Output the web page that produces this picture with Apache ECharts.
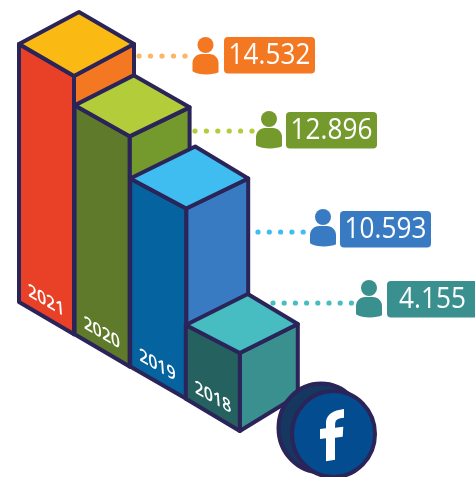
<!DOCTYPE html>
<html><head><meta charset="utf-8">
<style>html,body{margin:0;padding:0;background:#fff}#c{width:475px;height:477px}</style>
<script src="https://cdn.jsdelivr.net/npm/echarts@6/dist/echarts.min.js"></script>
</head><body><div id="c"></div>
<script>
const years = ['2021', '2020', '2019', '2018'];
const followers = [14532, 12896, 10593, 4155];
const valueLabels = ['14.532', '12.896', '10.593', '4.155'];

const topColors = ['#fbb913', '#b2cc3a', '#3fbdf0', '#47bcc1'];
const leftColors = ['#e94127', '#5f7a2a', '#05649f', '#25625f'];
const rightColors = ['#f47721', '#74992c', '#387bc2', '#3a908e'];
const dotColors = ['#fbb563', '#b2cc3a', '#3fbdf0', '#47bcc1'];

const INK = '#2a2459';
const STROKE = 4;
const FLOOR_SLOPE = 0.58;
const RIGHT_FACE_RATIO = 0.97;
const TEXT_FONT = '"Open Sans", sans-serif';

// Corner offsets of each bar's top face, measured from its left corner.
const topFaces = [
  { f: [55, 32], b: [60, -32], r: [115, 0] },
  { f: [55, 31], b: [59, -30], r: [115, 2] },
  { f: [56, 30], b: [65, -32], r: [118, 0] },
  { f: [54, 28], b: [62, -31], r: [112, -1] }
];

const callouts = [
  { dot0: 139, dots: 5, step: 11.5, dotY: 56, iconX: 192.5, iconY: 37, pillX: 224, pillY: 37 },
  { dot0: 195, dots: 6, step: 11.4, dotY: 131, iconX: 256, iconY: 111, pillX: 286, pillY: 112 },
  { dot0: 258, dots: 5, step: 11.3, dotY: 232, iconX: 310, iconY: 209, pillX: 340, pillY: 211 },
  { dot0: 273, dots: 8, step: 11.2, dotY: 303, iconX: 356, iconY: 280, pillX: 387, pillY: 281 }
];

// Year label sheared onto the left face: baseline follows the floor, stems stay near vertical.
function skewed(text, cx, cy) {
  const t = 30 * Math.PI / 180, s = 4 * Math.PI / 180;
  const a = Math.cos(t), b = Math.sin(s), c = Math.sin(t), d = Math.cos(s);
  const E = (a + d) / 2, F = (a - d) / 2, G = (c + b) / 2, H = (c - b) / 2;
  const Q = Math.hypot(E, H), R = Math.hypot(F, G);
  const a1 = Math.atan2(G, F), a2 = Math.atan2(H, E);
  const theta = (a2 - a1) / 2, phi = (a2 + a1) / 2;
  return {
    type: 'group', x: cx, y: cy, rotation: -phi, children: [{
      type: 'group', scaleX: Q + R, scaleY: Q - R, children: [{
        type: 'text', rotation: -theta,
        style: { text, fill: '#fff', font: '600 18.5px ' + TEXT_FONT, align: 'center', verticalAlign: 'middle' }
      }]
    }]
  };
}

function renderBar(params, api) {
  const i = params.dataIndex;
  const topPt = api.coord([api.value(0), api.value(1)]);
  const basePt = api.coord([api.value(0), 0]);
  const band = api.size([1, 0])[0];
  const lx = topPt[0] - band / 2;
  const drop = i * band * FLOOR_SLOPE;
  const h = basePt[1] - topPt[1];
  const ly = topPt[1] + drop;
  const face = topFaces[i];
  const at = (o) => [lx + o[0], ly + o[1]];
  const L = [lx, ly];
  const Fp = at(face.f);
  const B = at(face.b);
  const R = at(face.r);
  const baseL = [lx, ly + h];
  const baseF = [Fp[0], ly + h + band * FLOOR_SLOPE];
  const st = (fill) => ({ fill, stroke: INK, lineWidth: STROKE, lineJoin: 'round' });
  const co = callouts[i];
  const children = [];
  for (let k = 0; k < co.dots; k++) {
    children.push({ type: 'circle', shape: { cx: co.dot0 + k * co.step, cy: co.dotY, r: 2.6 }, style: { fill: dotColors[i] } });
  }
  children.push(
    { type: 'polygon', shape: { points: [Fp, R, [R[0], R[1] + h * RIGHT_FACE_RATIO], baseF] }, style: st(rightColors[i]) },
    { type: 'polygon', shape: { points: [L, Fp, baseF, baseL] }, style: st(leftColors[i]) },
    { type: 'polygon', shape: { points: [L, B, R, Fp] }, style: st(topColors[i]) },
    skewed(years[i], lx + band * 0.49, ly + h - 1),
    { type: 'circle', shape: { cx: co.iconX + 13, cy: co.iconY + 8, r: 8 }, style: { fill: rightColors[i] } },
    { type: 'path', shape: {
        pathData: 'M0 17 V9 C0 4 4 0 9 0 H17 C22 0 26 4 26 9 V18 C20 21 6 21 0 17 Z',
        x: co.iconX, y: co.iconY + 17, width: 26, height: 20.5, layout: 'cover' },
      style: { fill: rightColors[i] } },
    { type: 'rect', shape: { x: co.pillX, y: co.pillY, width: 91, height: 36.5, r: 4 }, style: { fill: rightColors[i] } },
    { type: 'text', x: co.pillX + 45.5, y: co.pillY + 18.5, scaleX: 0.97, scaleY: 1.06,
      style: { text: valueLabels[i], fill: '#fff', font: '400 27px ' + TEXT_FONT, align: 'center', verticalAlign: 'middle' } }
  );
  return { type: 'group', children };
}

function renderCoin() {
  return { type: 'group', children: [
    { type: 'ellipse', shape: { cx: 321, cy: 428, rx: 42.5, ry: 44.5 }, style: { fill: '#16375f', stroke: INK, lineWidth: STROKE } },
    { type: 'ellipse', shape: { cx: 333.5, cy: 434, rx: 41.5, ry: 43 }, style: { fill: '#024c8f', stroke: INK, lineWidth: STROKE } },
    { type: 'path', shape: {
        pathData: 'M344 409 L344 417.7 Q335.5 418 335.2 423 L335 427.7 L343.3 426.7 L342.7 436.7 L335 437.7 L335 459.7 L326 461.3 L326 438.3 L320 439 L320 429 L326 428.3 L326 421.7 Q327 411 344 409 Z',
        x: 320, y: 409, width: 24, height: 52.3, layout: 'cover' },
      style: { fill: '#fff' } }
  ]};
}

const chart = echarts.init(document.getElementById('c'), null, { renderer: 'canvas' });
chart.setOption({
  animation: false,
  backgroundColor: '#fff',
  grid: { left: 19, top: 18, width: 222.4, height: 284 },
  xAxis: { type: 'category', data: years, show: false },
  yAxis: { type: 'value', min: 0, max: 16000, show: false },
  series: [{
    type: 'custom',
    renderItem: renderBar,
    silent: true,
    encode: { x: 0, y: 1 },
    data: years.map((y, i) => [y, followers[i]])
  }, {
    type: 'custom',
    z: 5,
    renderItem: renderCoin,
    silent: true,
    data: [[years[3], 0]],
    encode: { x: 0, y: 1 }
  }]
});
</script></body></html>
